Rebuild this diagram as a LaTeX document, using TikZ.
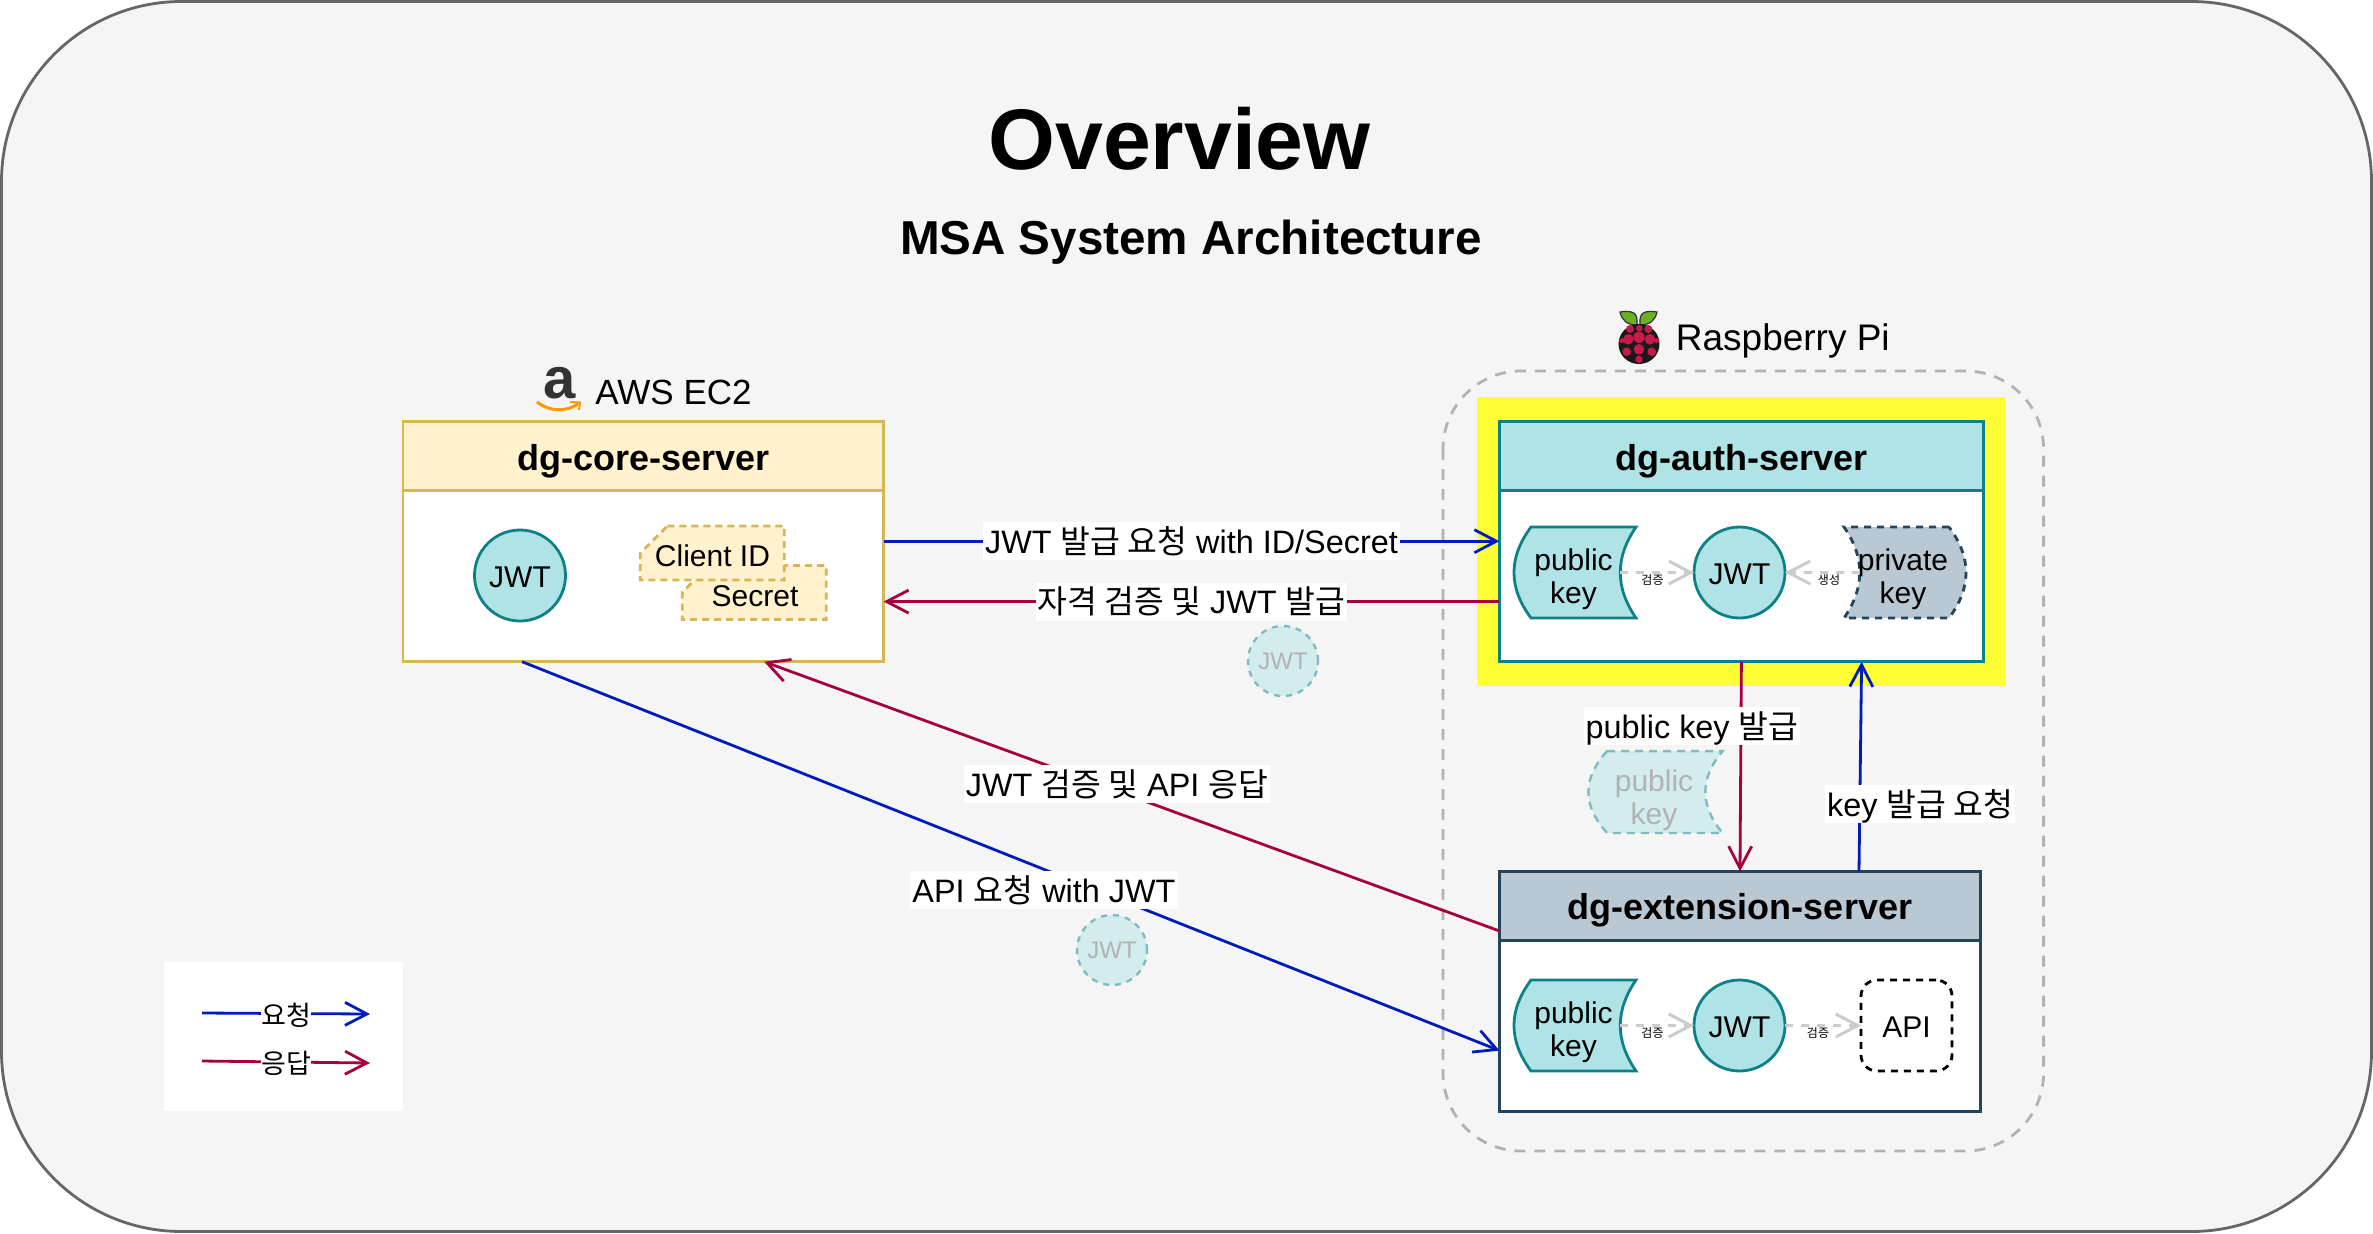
\documentclass[tikz,border=0pt]{standalone}
\usepackage{fontspec}
\setmainfont{Liberation Sans}
\newfontfamily\krfont{Noto Sans CJK KR}
\newcommand{\kr}[1]{{\krfont #1}}
\usetikzlibrary{arrows.meta}

\definecolor{reqblue}{HTML}{001DBC}
\definecolor{resred}{HTML}{A50040}
\definecolor{tealline}{HTML}{0E8088}
\definecolor{tealfill}{HTML}{B0E3E6}
\definecolor{slateline}{HTML}{23445D}
\definecolor{slatefill}{HTML}{BAC8D3}
\definecolor{goldline}{HTML}{D6B656}
\definecolor{goldfill}{HTML}{FFF2CC}
\definecolor{fadefill}{HTML}{D3ECEE}
\definecolor{fadeline}{HTML}{7FBCC1}
\definecolor{markyellow}{HTML}{FFFF33}
\definecolor{berryred}{HTML}{C51A4A}
\definecolor{leafgreen}{HTML}{6AB023}
\definecolor{smileorange}{HTML}{FF9900}

\tikzset{
	servhead/.style={draw, rectangle, line width=1.4pt, outer sep=0pt, inner sep=0pt, minimum height=34.5pt, text height=16.2pt, text depth=2.1pt, font=\fontsize{18}{20}\selectfont\bfseries},
	servbody/.style={draw, fill=white, rectangle, line width=1.4pt, outer sep=0pt, inner sep=0pt, minimum height=85.5pt},
	jwtnode/.style={draw=tealline, fill=tealfill, circle, line width=1.4pt, outer sep=0pt, inner sep=0pt, minimum size=45.5pt, text height=12pt, text depth=0pt, font=\fontsize{15}{17}\selectfont},
	fadejwt/.style={draw=fadeline, fill=fadefill, dashed, circle, line width=1.2pt, inner sep=0pt, outer sep=0pt, minimum size=35pt, text=black!30, font=\fontsize{12}{14}\selectfont},
	bodytext/.style={align=center, inner sep=0pt, font=\fontsize{15}{16.7}\selectfont},
	flowlabel/.style={fill=white, inner xsep=1pt, inner ysep=0pt, text height=15.5pt, text depth=3.5pt, font=\fontsize{16.2}{18}\selectfont},
	tinylabel/.style={inner sep=0pt, font=\fontsize{6}{7}\selectfont},
	hostlabel/.style={anchor=west, inner sep=0pt, font=\fontsize{17.5}{20}\selectfont},
	reqflow/.style={draw=reqblue, line width=1.4pt, -{Straight Barb[length=11pt,width=11.5pt]}},
	resflow/.style={draw=resred, line width=1.4pt, -{Straight Barb[length=11pt,width=11.5pt]}},
	checkflow/.style={draw=black!20, line width=1.5pt, dash pattern=on 4pt off 4pt, -{Straight Barb[length=11pt,width=11.5pt]}},
	legendtext/.style={midway, fill=white, inner sep=0pt, yshift=-.8pt, font=\fontsize{13.5}{15}\selectfont},
	keyshape/.pic={\path[pic actions] (-44,-45.5) -- (61,-45.5) .. controls (40,-15) and (40,15) .. (61,45.5) -- (-44,45.5) .. controls (-66.7,15) and (-66.7,-15) .. cycle;},
	cardshape/.pic={\path[pic actions] (-45,-27) -- (72,-27) -- (72,27) -- (-72,27) -- (-72,0) -- cycle;}
}

\begin{document}
\begin{tikzpicture}[x=.5pt, y=-.5pt]
	\useasboundingbox (0,0) rectangle (2373,1233);
	\draw [draw=black!60, fill=black!4, line width=1.4pt, rounded corners=90pt] (1.5,1.5) rectangle (2371.5,1231.5);

	\node [inner sep=0pt, font=\fontsize{43}{50}\selectfont\bfseries] (title) at (1179.5,139) {Overview};
	\node [inner sep=0pt, font=\fontsize{23.8}{28}\selectfont\bfseries] (subtitle) at (1191,242) {MSA System Architecture};

	\draw [draw=black!30, line width=1.4pt, dash pattern=on 5.5pt off 4.5pt, rounded corners=39pt] (1443,371) rectangle (2043.6,1151);
	\fill [markyellow] (1477,397) rectangle (2005,685.7);

	\node [hostlabel] (awslabel) at (595,392.5) {AWS EC2};
	\node [inner sep=0pt, text=black!80, font=\fontsize{29}{32}\selectfont\bfseries] (awsicon) at (559.5,383) {a};
	\draw [draw=smileorange, line width=1.5pt] (537,402) .. controls (550,412) and (566,412) .. (578,404);
	\draw [draw=smileorange, line width=1pt] (570,402) -- (580,402.5) -- (579,410);

	\node [hostlabel, font=\fontsize{18.5}{20}\selectfont] (pilabel) at (1675.5,341) {Raspberry Pi};
	\foreach \lx/\rx in {1620/1637, 1657/1640}
		\draw [draw=black!80, fill=leafgreen, line width=.6pt] (\lx,312) .. controls ({\rx-.1*(\lx-\rx)},309) and (\rx,318) .. (\rx,325) .. controls ({\rx+.6*(\lx-\rx)},325) and ({\lx-.1*(\lx-\rx)},320) .. cycle;
	\fill [black!90] (1639,344) ellipse [x radius=20.5, y radius=20];
	\foreach \bx/\by/\br in {1630/329/4, 1648.3/329/4, 1639.3/328.3/3.3, 1639/337.3/5.7, 1628.3/339.3/5.3, 1650/339.3/5.3, 1621.7/340.7/2.5, 1656.7/340.7/2.5, 1639/349.3/5.3, 1626.7/351.7/4.3, 1651.7/351.7/4.3, 1639/359.3/3.7}
		\fill [berryred] (\bx,\by) circle (\br);

	\node [servhead, draw=goldline, fill=goldfill, minimum width=240.3pt] (corehead) at (643.3,456.2) {dg-core-server};
	\node [servbody, draw=goldline, minimum width=240.3pt] (core) at (643.3,576.2) {};
	\node [jwtnode] (corejwt) at (520,575.5) {JWT};
	\pic [draw=goldline, fill=goldfill, line width=1.4pt, dash pattern=on 3.5pt off 2.5pt] at (754.2,592.5) {cardshape};
	\node [bodytext] (secret) at (755,596) {Secret};
	\pic [draw=goldline, fill=goldfill, line width=1.4pt, dash pattern=on 3.5pt off 2.5pt] at (712.3,553) {cardshape};
	\node [bodytext] (client) at (712.5,555.5) {Client ID};

	\node [servhead, draw=tealline, fill=tealfill, minimum width=242pt] (authhead) at (1741.4,456.2) {dg-auth-server};
	\node [servbody, draw=tealline, minimum width=242pt] (auth) at (1741.4,576.2) {};
	\coordinate (authkey) at (1575,572.5);
	\pic [draw=tealline, fill=tealfill, line width=1.4pt] at (authkey) {keyshape};
	\node [bodytext] (authkeytext) at (1573.5,579) {public\\key};
	\node [jwtnode] (authjwt) at (1739.5,572.5) {JWT};
	\coordinate (privkey) at (1905,572.5);
	\pic [draw=slateline, fill=slatefill, line width=1.4pt, dash pattern=on 3.5pt off 3pt, xscale=-1] at (privkey) {keyshape};
	\node [bodytext] (privkeytext) at (1903,579) {private\\key};
	\draw [checkflow] ([xshift=22.5pt]authkey) -- (authjwt.west);
	\draw [checkflow] ([xshift=-22.5pt]privkey) -- (authjwt.east);
	\node [tinylabel] (authcheck) at (1652.5,579.5) {\kr{검증}};
	\node [tinylabel] (authmake) at (1829,579.5) {\kr{생성}};

	\node [servhead, draw=slateline, fill=slatefill, minimum width=240.5pt] (exthead) at (1740,905.8) {dg-extension-server};
	\node [servbody, draw=slateline, minimum width=240.5pt] (ext) at (1740,1025.8) {};
	\coordinate (extkey) at (1575,1025.5);
	\pic [draw=tealline, fill=tealfill, line width=1.4pt] at (extkey) {keyshape};
	\node [bodytext] (extkeytext) at (1573.5,1032) {public\\key};
	\node [jwtnode] (extjwt) at (1739.5,1025.5) {JWT};
	\node [draw, dash pattern=on 3.5pt off 3pt, line width=1.4pt, rounded corners=8pt, minimum width=45.5pt, minimum height=45.5pt, inner sep=0pt, outer sep=0pt, text height=12pt, text depth=0pt, font=\fontsize{15}{17}\selectfont] (api) at (1906.5,1025.5) {API};
	\draw [checkflow] ([xshift=22.5pt]extkey) -- (extjwt.west);
	\draw [checkflow] (extjwt.east) -- (api.west);
	\node [tinylabel] (extcheck) at (1652.5,1032.5) {\kr{검증}};
	\node [tinylabel] (apicheck) at (1818,1032.5) {\kr{검증}};

	\draw [reqflow] ([yshift=17.5pt]core.east) -- ([yshift=17.5pt]auth.west) node [flowlabel, midway] (tokenreq) {JWT \kr{발급 요청} with ID/Secret};
	\draw [resflow] ([yshift=-12.7pt]auth.west) -- ([yshift=-12.7pt]core.east) node [flowlabel, midway] (tokenres) {\kr{자격 검증 및} JWT \kr{발급}};
	\node [fadejwt] (fadejwta) at (1283,661) {JWT};

	\draw [reqflow] ([xshift=-60.6pt]core.south) -- ([yshift=-12.4pt]ext.west);
	\draw [resflow] ([yshift=-12.6pt]exthead.west) -- ([xshift=60.4pt]core.south);
	\node [flowlabel] (apires) at (1117,784) {JWT \kr{검증 및} API \kr{응답}};
	\node [flowlabel] (apireq) at (1044,890) {API \kr{요청} with JWT};
	\node [fadejwt] (fadejwtb) at (1112,950) {JWT};

	\draw [resflow] (auth.south) -- (exthead.north);
	\draw [reqflow] ([xshift=59.5pt]exthead.north) -- ([xshift=60.1pt]auth.south);
	\node [flowlabel] (keyres) at (1692,726) {public key \kr{발급}};
	\node [flowlabel] (keyreq) at (1920,804) {key \kr{발급 요청}};
	\coordinate (fadekey) at (1655.5,792);
	\pic [draw=fadeline, fill=fadefill, line width=1.2pt, dash pattern=on 4pt off 3pt, xscale=1.1, yscale=.9] at (fadekey) {keyshape};
	\node [bodytext, text=black!30] (fadekeytext) at (1654,800) {public\\key};

	\fill [white] (164,962) rectangle (402.7,1111);
	\coordinate (reqstart) at (202,1013);
	\coordinate (reqend) at (370,1014);
	\coordinate (resstart) at (202,1061);
	\coordinate (resend) at (370,1063);
	\draw [reqflow] (reqstart) -- (reqend) node [legendtext] (legendreq) {\kr{요청}};
	\draw [resflow] (resstart) -- (resend) node [legendtext] (legendres) {\kr{응답}};
\end{tikzpicture}
\end{document}
